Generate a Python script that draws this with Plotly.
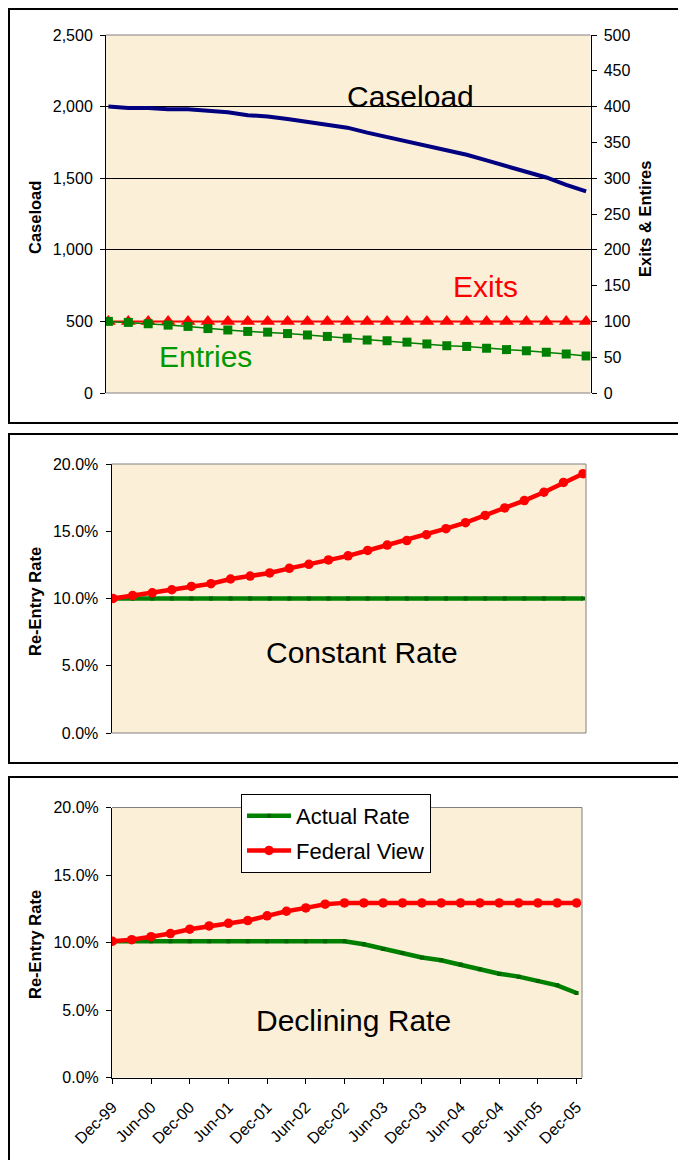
import plotly.graph_objects as go

# ---------------- data ----------------
quarters = ["Dec-99", "Mar-00", "Jun-00", "Sep-00", "Dec-00", "Mar-01", "Jun-01", "Sep-01",
            "Dec-01", "Mar-02", "Jun-02", "Sep-02", "Dec-02", "Mar-03", "Jun-03", "Sep-03",
            "Dec-03", "Mar-04", "Jun-04", "Sep-04", "Dec-04", "Mar-05", "Jun-05", "Sep-05", "Dec-05"]
tick_labels = quarters[::2]

caseload = [2000, 1991, 1991, 1982, 1982, 1972, 1961, 1940, 1931, 1913, 1894, 1873, 1853,
            1818, 1788, 1756, 1724, 1698, 1664, 1624, 1583, 1541, 1505, 1454, 1408]
exits = [100] * 25
entries = [100, 98.6, 96.7, 94.8, 93, 90, 88, 86, 85, 83, 81, 79, 76.5, 74, 73, 71, 68.5,
           66, 65, 62.5, 60.6, 59, 57, 54.5, 51.6]

const_actual = [0.10] * 25
const_federal = [0.100, 0.1022, 0.1042, 0.1065, 0.109, 0.111, 0.1145, 0.1167, 0.119, 0.1224,
                 0.1254, 0.1287, 0.1317, 0.1357, 0.1397, 0.1431, 0.1474, 0.1519, 0.1564,
                 0.1618, 0.1673, 0.1728, 0.179, 0.1863, 0.1928]

decl_actual = [0.101, 0.101, 0.101, 0.101, 0.101, 0.101, 0.101, 0.101, 0.101, 0.101, 0.101,
               0.101, 0.101, 0.0988, 0.0953, 0.0923, 0.089, 0.0869, 0.0837, 0.0802, 0.077,
               0.0748, 0.0716, 0.0684, 0.065][:24] + [0.0627]
decl_federal = [0.101, 0.1022, 0.1044, 0.1067, 0.1099, 0.1123, 0.1143, 0.1163, 0.1198, 0.1232,
                0.1257, 0.1284, 0.1294, 0.1294, 0.1294, 0.1294, 0.1294, 0.1294, 0.1294,
                0.1294, 0.1294, 0.1294, 0.1294, 0.1294, 0.1294]

# page body has an 8px margin; the figure is sized/offset to fit the 686x1160 window
OFF = 8
W, H = 686 - OFF, 1160 - OFF
def px(x):
    return (x - OFF) / W
def py(y):
    return 1 - (y - OFF) / H

FONT = "Liberation Sans, Arial, sans-serif"
BG = "#FBEFD8"
NAVY = "#000080"
RED = "#FF0000"
GREEN = "#008000"

fig = go.Figure()

# Panel 1
fig.add_trace(go.Scatter(x=quarters, y=caseload, mode="lines", line=dict(color=NAVY, width=4),
                         xaxis="x", yaxis="y", showlegend=False, name="Caseload"))
fig.add_trace(go.Scatter(x=quarters, y=exits, mode="lines+markers",
                         line=dict(color=RED, width=2),
                         marker=dict(symbol="triangle-up", size=13, color=RED),
                         xaxis="x", yaxis="y4", showlegend=False, name="Exits"))
fig.add_trace(go.Scatter(x=quarters, y=entries, mode="lines+markers",
                         line=dict(color=GREEN, width=1.5),
                         marker=dict(symbol="square", size=9, color=GREEN),
                         xaxis="x", yaxis="y4", showlegend=False, name="Entries"))

# Panel 2
fig.add_trace(go.Scatter(x=quarters, y=const_actual, mode="lines+markers",
                         line=dict(color=GREEN, width=4.5),
                         marker=dict(symbol="square", size=4, color="#006400"),
                         xaxis="x2", yaxis="y2", showlegend=False, name="Actual Rate"))
fig.add_trace(go.Scatter(x=quarters, y=const_federal, mode="lines+markers",
                         line=dict(color=RED, width=4.5),
                         marker=dict(symbol="circle", size=9.5, color=RED),
                         xaxis="x2", yaxis="y2", showlegend=False, name="Federal View"))

# Panel 3
fig.add_trace(go.Scatter(x=quarters, y=decl_actual, mode="lines+markers",
                         line=dict(color=GREEN, width=4.5),
                         marker=dict(symbol="square", size=4, color="#006400"),
                         xaxis="x3", yaxis="y3", showlegend=True, name="Actual Rate",
                         legendgroup="a"))
fig.add_trace(go.Scatter(x=quarters, y=decl_federal, mode="lines+markers",
                         line=dict(color=RED, width=4.5),
                         marker=dict(symbol="circle", size=9.5, color=RED),
                         xaxis="x3", yaxis="y3", showlegend=True, name="Federal View",
                         legendgroup="b"))

tickfont = dict(family=FONT, size=16, color="black")
xcommon = dict(type="category", categoryorder="array", categoryarray=quarters,
               showgrid=False, zeroline=False, automargin=False)
ycommon = dict(zeroline=False, showline=True, linecolor="black", linewidth=1,
               ticks="outside", ticklen=5, tickcolor="black", tickfont=tickfont,
               automargin=False, ticklabelstandoff=4)

fig.update_layout(
    template="none",
    width=W, height=H,
    margin=dict(l=0, r=0, t=0, b=0, pad=0),
    paper_bgcolor="white", plot_bgcolor=BG,
    font=dict(family=FONT, color="black"),
    xaxis=dict(domain=[px(106), px(590.5)], anchor="y", range=[-0.12, 24.22],
               showticklabels=False, ticks="", showline=False, **xcommon),
    yaxis=dict(domain=[py(393), py(35)], anchor="x", range=[0, 2500], dtick=500,
               tickformat=",", showgrid=True, gridcolor="black", gridwidth=1, **ycommon),
    yaxis4=dict(overlaying="y", side="right", anchor="x", range=[0, 500], dtick=50,
                showgrid=False, **ycommon),
    xaxis2=dict(domain=[px(111.5), px(586)], anchor="y2", range=[-0.08, 24.15],
                showticklabels=False, ticks="", showline=False, **xcommon),
    yaxis2=dict(domain=[py(733), py(464)], anchor="x2", range=[0, 0.2], dtick=0.05,
                tickformat=".1%", showgrid=False, **ycommon),
    xaxis3=dict(domain=[px(112), px(582)], anchor="y3", range=[-0.02, 24.28],
                tickmode="array", tickvals=tick_labels, ticktext=tick_labels,
                tickangle=-45, ticks="outside", ticklen=5, tickcolor="black",
                showline=True, linecolor="black", linewidth=1, tickfont=tickfont,
                ticklabelstandoff=8, **xcommon),
    yaxis3=dict(domain=[py(1077.7), py(807.5)], anchor="x3", range=[0, 0.2], dtick=0.05,
                tickformat=".1%", showgrid=False, **ycommon),
    legend=dict(x=px(241), y=py(794), xanchor="left", yanchor="top",
                bgcolor="white", bordercolor="black", borderwidth=1,
                font=dict(family=FONT, size=22, color="black"),
                tracegroupgap=3, itemwidth=44),
)

shapes = []
GREY = "#808080"
def hline(x0, x1, y, color=GREY, w=1):
    shapes.append(dict(type="line", xref="paper", yref="paper", x0=px(x0), x1=px(x1),
                       y0=py(y), y1=py(y), line=dict(color=color, width=w), layer="above"))
def vline(x, y0, y1, color=GREY, w=1):
    shapes.append(dict(type="line", xref="paper", yref="paper", x0=px(x), x1=px(x),
                       y0=py(y0), y1=py(y1), line=dict(color=color, width=w), layer="above"))

# plot-area borders
hline(106, 590.5, 35)
hline(106, 590.5, 393)
hline(111.5, 586, 464)
hline(111.5, 586, 733)
vline(586, 464, 733)
hline(112, 582, 807.5)
vline(582, 807.5, 1077.7)

# panel frames
for (y0, y1) in [(5, 423), (434, 763), (777, 1175)]:
    shapes.append(dict(type="rect", xref="paper", yref="paper", x0=px(9), x1=px(700),
                       y0=py(max(y0, 9)), y1=py(y1), line=dict(color="black", width=2),
                       fillcolor="rgba(0,0,0,0)", layer="above"))
fig.update_layout(shapes=shapes)

def ann(text, x, y, size, color="black", bold=False, angle=0):
    fig.add_annotation(text=f"<b>{text}</b>" if bold else text, xref="paper", yref="paper",
                       x=px(x), y=py(y), xanchor="center", yanchor="middle",
                       showarrow=False, textangle=angle,
                       font=dict(family=FONT, size=size, color=color))

ann("Caseload", 410, 97, 30)
ann("Exits", 485, 286, 30, RED)
ann("Entries", 205, 357, 30, "#009900")
ann("Constant Rate", 362, 652, 30)
ann("Declining Rate", 353, 1020, 30)
ann("Caseload", 35, 218, 16.5, bold=True, angle=-90)
ann("Exits &amp; Entires", 645, 219, 16.5, bold=True, angle=-90)
ann("Re-Entry Rate", 35, 602, 16.5, bold=True, angle=-90)
ann("Re-Entry Rate", 35, 945, 16.5, bold=True, angle=-90)

fig.write_html("out.html")
